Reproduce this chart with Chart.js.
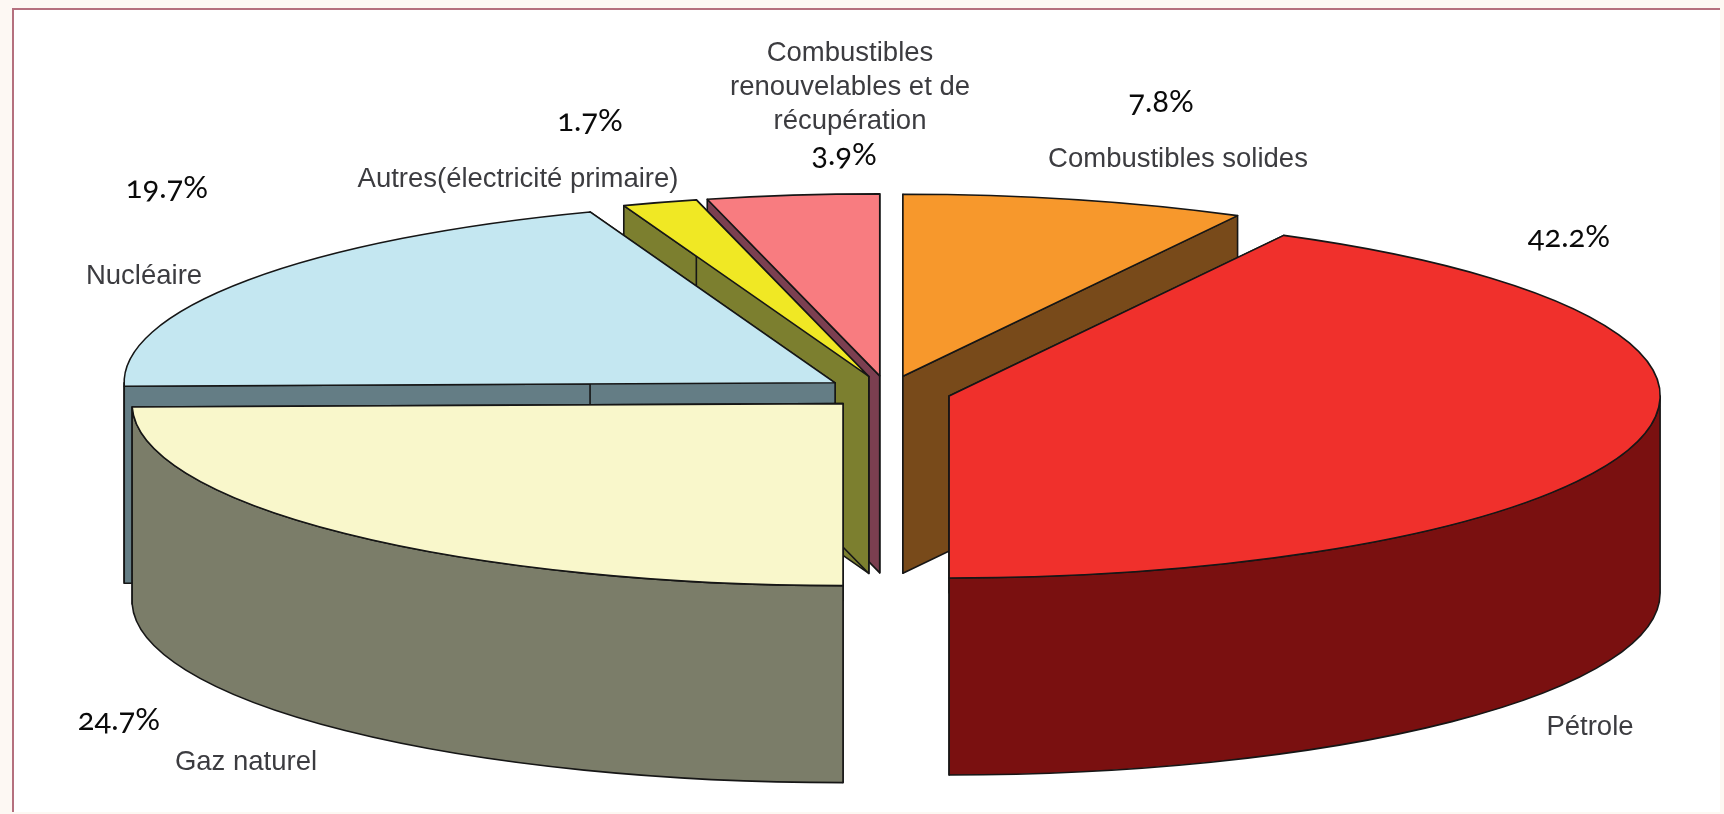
<!DOCTYPE html>
<html lang="fr">
<head>
<meta charset="utf-8">
<title>Energie</title>
<style>
html,body{margin:0;padding:0;background:#fdf8f3;width:1724px;height:814px;overflow:hidden}
#frame{position:absolute;left:12px;top:8px;width:1706px;height:802px;background:#fff;border-left:2px solid #b5707e;border-top:2px solid #b5707e}
#c{position:absolute;left:0;top:0}
.lbl{position:absolute;transform:translate(-50%,-50%);white-space:nowrap;text-align:center}
.name{font:27.5px "Liberation Sans",Arial,sans-serif;color:#3c3c40}
.pct{font:31px Lato,"Open Sans",sans-serif;color:#0a0a0a;font-feature-settings:"onum" 1,"lnum" 0;font-variant-numeric:oldstyle-nums}
</style>
</head>
<body>
<div id="frame"></div>
<canvas id="c" width="1724" height="814"></canvas>
<script src="https://cdn.jsdelivr.net/npm/chart.js@4/dist/chart.umd.min.js"></script>
<script>
// Data, clockwise from the top of the pie
const categories = ["Combustibles solides", "Pétrole", "Gaz naturel", "Nucléaire", "Autres(électricité primaire)", "Combustibles\nrenouvelables et de\nrécupération"];
const shares = [7.8, 42.2, 24.7, 19.7, 1.7, 3.9];
const topColors = ["#f7982c", "#f0302c", "#f9f7cb", "#c4e7f1", "#f0e824", "#f87c80"];
const wallColors = ["#784a1a", "#7a1010", "#7b7d69", "#647d85", "#7c7f2f", "#7b3f50"];

// Layout of the tilted, exploded pie
const RADIUS = 711, TILT = 0.256, DEPTH = 197, EXPLODE = 63.5, LINE = "#161616", LINE_W = 1.6;
const namePos = [[1178,158],[1590,726],[246,761],[144,275],[518,178],[850,86]];
const pctPos = [[1161,100],[1569,235],[119,718],[167,186],[590,119],[844,153]];

function sy(y, cy){ return cy + (y - cy) * TILT; }

function slices(chart){
  return chart.getDatasetMeta(0).data.map((el,i)=>({el,i,mid:(el.startAngle+el.endAngle)/2}));
}
const pie3d = {
  id:"pie3d",
  afterDatasetsUpdate(chart){
    slices(chart).forEach(({el,mid})=>{
      el.x += Math.cos(mid)*EXPLODE;
      el.y += Math.sin(mid)*EXPLODE;
    });
  },
  beforeDatasetDraw(chart){
    const ctx = chart.ctx, cy = (chart.chartArea.top+chart.chartArea.bottom)/2;
    const order = slices(chart).sort((a,b)=>Math.sin(a.mid)-Math.sin(b.mid));
    order.forEach(({el,i})=>{
      const x = el.x, y = sy(el.y,cy), R = el.outerRadius, r = R*TILT;
      ctx.save();
      ctx.fillStyle = wallColors[i]; ctx.strokeStyle = LINE; ctx.lineWidth = LINE_W; ctx.lineJoin = "round";
      [el.startAngle, el.endAngle].forEach(a=>{
        const px = x+Math.cos(a)*R, py = y+Math.sin(a)*r;
        ctx.beginPath(); ctx.moveTo(x,y); ctx.lineTo(px,py); ctx.lineTo(px,py+DEPTH); ctx.lineTo(x,y+DEPTH); ctx.closePath();
        ctx.fill(); ctx.stroke();
      });
      const a0 = Math.max(el.startAngle,0), a1 = Math.min(el.endAngle,Math.PI);
      if (a1 > a0){
        ctx.beginPath();
        ctx.ellipse(x,y,R,r,0,a0,a1);
        ctx.ellipse(x,y+DEPTH,R,r,0,a1,a0,true);
        ctx.closePath(); ctx.fill(); ctx.stroke();
      }
      ctx.restore();
    });
    ctx.save();
    ctx.translate(0,cy); ctx.scale(1,TILT); ctx.translate(0,-cy);
  },
  afterDatasetDraw(chart){
    const ctx = chart.ctx, cy = (chart.chartArea.top+chart.chartArea.bottom)/2;
    ctx.restore();
    ctx.save();
    ctx.strokeStyle = LINE; ctx.lineWidth = LINE_W; ctx.lineJoin = "round";
    slices(chart).forEach(({el})=>{
      const x = el.x, y = sy(el.y,cy);
      ctx.beginPath(); ctx.moveTo(x,y);
      ctx.ellipse(x,y,el.outerRadius,el.outerRadius*TILT,0,el.startAngle,el.endAngle);
      ctx.closePath(); ctx.stroke();
    });
    ctx.restore();
  }
};

new Chart(document.getElementById("c"),{
  type:"pie",
  data:{labels:categories.map(s=>s.replace(/\n/g," ")),datasets:[{
    data:shares,backgroundColor:topColors,borderWidth:0,clip:false,radius:RADIUS
  }]},
  options:{
    responsive:false,animation:false,
    layout:{padding:{left:51,bottom:30}},
    plugins:{legend:{display:false},tooltip:{enabled:false}}
  },
  plugins:[pie3d]
});

function addLabel(text,cls,pos){
  const d=document.createElement("div");
  d.className="lbl "+cls; d.style.left=pos[0]+"px"; d.style.top=pos[1]+"px";
  d.style.lineHeight = "34px";
  d.innerText=text; document.body.appendChild(d);
}
categories.forEach((c,i)=>addLabel(c,"name",namePos[i]));
shares.forEach((v,i)=>addLabel(v.toFixed(1)+"%","pct",pctPos[i]));
</script>
</body>
</html>
